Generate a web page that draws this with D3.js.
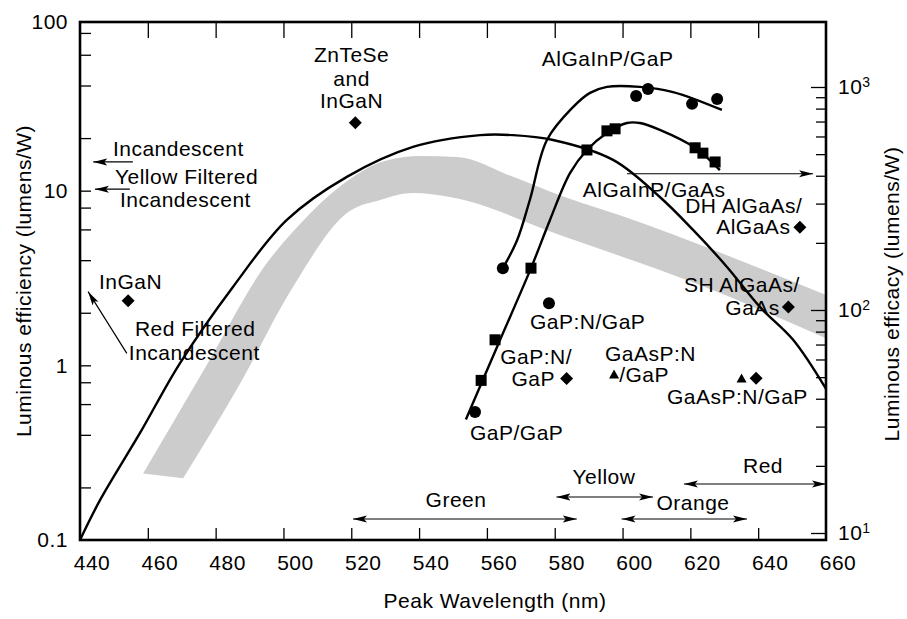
<!DOCTYPE html>
<html>
<head>
<meta charset="utf-8">
<script src="https://cdn.jsdelivr.net/npm/d3@7"></script>
<style>
    body { margin: 0; background: #fff; }
    text {
        font-family: "Liberation Sans", Arial, Helvetica, sans-serif;
        font-size: 21px;
        letter-spacing: 0.5px;
        fill: #000;
    }
</style>
</head>
<body>
<svg id="chart" width="907" height="619"></svg>
<script>
// ============================================================================
// DATA - values (wavelength nm, luminous efficiency lm/W)
// ============================================================================

const xTickValues = [440, 460, 480, 500, 520, 540, 560, 580, 600, 620, 640, 660];
const leftMajorTicks = [0.1, 1, 10, 100];
const leftMinorTicks = [0.2, 0.4, 0.6, 0.8, 2, 4, 6, 8, 20, 40, 60, 80];
const rightMajorTicks = [10, 100, 1000];
const rightMinorTicks = [20, 30, 40, 50, 60, 70, 80, 90, 200, 300, 400, 500, 600, 700, 800, 900];

// eye-response style envelope curve
const envelopeCurve = [
    [440, 0.1], [445.9, 0.169], [457.7, 0.41], [469.5, 1.03], [485.1, 2.81],
    [501, 6.8], [518.7, 12.0], [538.2, 17.8], [558, 20.8], [567.7, 20.8],
    [579.5, 19.5], [597.2, 15.0], [611, 9.2], [620.8, 5.96], [630.8, 3.66],
    [640.5, 2.16], [650.3, 1.40], [660, 0.733]
];

// gray band (filtered incandescent range)
const bandUpper = [
    [458.6, 0.24], [476.9, 0.97], [495.1, 3.85], [504.9, 6.45], [516.7, 10.6],
    [529.9, 14.8], [540.3, 15.8], [551.2, 15.6], [567.7, 12.0], [581.5, 9.4],
    [605.1, 6.6], [622.8, 4.9], [660, 2.53]
];
const bandLower = [
    [470.4, 0.226], [486.6, 0.75], [502.8, 2.81], [518.7, 7.45], [528.5, 8.85],
    [538.2, 9.7], [549.1, 9.2], [581.5, 5.57], [622.8, 2.88], [660, 1.43]
];

// AlGaInP/GaP (circles)
const algainpGapCurve = [
    [564.7, 3.6], [568.9, 5.2], [572.7, 8.9], [577.7, 19.5], [585.4, 30.1],
    [590.4, 36.3], [595.4, 39.3], [605.1, 39.3], [614.9, 36.7], [629.3, 29.0]
];
const algainpGapPoints = [[564.7, 3.6], [604.0, 34.8], [607.5, 38.2], [620.5, 31.4], [627.9, 33.5]];

// AlGaInP/GaAs (squares)
const algainpGaasCurve = [
    [553.8, 0.49], [563.4, 1.33], [573.0, 3.6], [578.6, 6.8], [584.5, 12.6],
    [589.5, 17.1], [595.4, 21.4], [601.3, 24.4], [605.1, 24.4], [611.0, 22.3],
    [621.4, 17.6], [628.7, 13.1]
];
const algainpGaasPoints = [
    [558.3, 0.82], [562.4, 1.40], [573.0, 3.6], [589.5, 17.1], [595.4, 22.0],
    [597.8, 22.6], [621.4, 17.6], [623.7, 16.4], [627.3, 14.6]
];

// single devices
const circlePoints = [[556.5, 0.54], [578.3, 2.27]];
const diamondPoints = [[454.2, 2.34], [521.2, 24.5], [583.5, 0.84], [639.4, 0.843], [648.9, 2.16], [652.3, 6.17]];
const trianglePoints = [[597.5, 0.88], [635.1, 0.836]];

// colour ranges along the wavelength axis
const colorBands = [
    { name: "Green", from: 520.5, to: 586.5 },
    { name: "Yellow", from: 580.5, to: 609.0 },
    { name: "Orange", from: 599.7, to: 636.7 },
    { name: "Red", from: 618.1, to: 660 }
];

// annotation arrows [from, to] in data units
const noteArrows = [
    [[455.6, 14.6], [443.9, 14.6]],
    [[454.7, 10.2], [444.4, 10.2]],
    [[453.8, 1.17], [442.4, 2.64]],
    [[601.3, 12.5], [656.2, 12.5]]
];

// text annotations: anchor point in data units
const notes = [
    { t: "ZnTeSe", x: 520.1, y: 59.8, a: "middle" },
    { t: "and", x: 520.1, y: 43.6, a: "middle" },
    { t: "InGaN", x: 520.1, y: 32.6, a: "middle" },
    { t: "AlGaInP/GaP", x: 576.2, y: 56.8, a: "start" },
    { t: "AlGaInP/GaAs", x: 588.3, y: 10.2, a: "start" },
    { t: "DH AlGaAs/", x: 653, y: 8.17, a: "end" },
    { t: "AlGaAs", x: 649.5, y: 6.2, a: "end" },
    { t: "SH AlGaAs/", x: 652.3, y: 2.88, a: "end" },
    { t: "GaAs", x: 646.4, y: 2.13, a: "end" },
    { t: "GaP:N/GaP", x: 572.7, y: 1.77, a: "start" },
    { t: "GaP:N/", x: 585.1, y: 1.12, a: "end" },
    { t: "GaP", x: 580.1, y: 0.836, a: "end" },
    { t: "GaAsP:N", x: 594.8, y: 1.16, a: "start" },
    { t: "/GaP", x: 599.0, y: 0.88, a: "start" },
    { t: "GaAsP:N/GaP", x: 613.1, y: 0.659, a: "start" },
    { t: "GaP/GaP", x: 555, y: 0.41, a: "start" },
    { t: "InGaN", x: 445.6, y: 3.0, a: "start" },
    { t: "Red Filtered", x: 456.2, y: 1.62, a: "start" },
    { t: "Incandescent", x: 454.4, y: 1.18, a: "start" },
    { t: "Incandescent", x: 449.7, y: 17.3, a: "start" },
    { t: "Yellow Filtered", x: 450.3, y: 12.0, a: "start" },
    { t: "Incandescent", x: 451.8, y: 8.85, a: "start" }
];

// ============================================================================
// LAYOUT
// ============================================================================

const frame = { left: 80, right: 826, top: 22, bottom: 540 };

const svg = d3.select("#chart");

const x = d3.scaleLinear().domain([440, 660]).range([frame.left, frame.right]);
const yLeft = d3.scaleLog().domain([0.1, 100]).range([540, 16]);
const yRight = d3.scaleLog().domain([10, 1000]).range([533, 87]);

const px = d => x(d[0]);
const py = d => yLeft(d[1]);

// arrow head marker
const defs = svg.append("defs");
defs.append("marker")
    .attr("id", "head")
    .attr("viewBox", "0 -5 14 10")
    .attr("refX", 14)
    .attr("refY", 0)
    .attr("markerWidth", 14)
    .attr("markerHeight", 10)
    .attr("markerUnits", "userSpaceOnUse")
    .attr("orient", "auto-start-reverse")
    .append("path")
    .attr("d", "M0,-3.5L14,0L0,3.5L3,0Z")
    .attr("fill", "#000");

defs.append("clipPath")
    .attr("id", "plotClip")
    .append("rect")
    .attr("x", frame.left)
    .attr("y", frame.top)
    .attr("width", frame.right - frame.left)
    .attr("height", frame.bottom - frame.top);

const plot = svg.append("g").attr("clip-path", "url(#plotClip)");

// ---- gray band ----
const bandLine = d3.line().x(px).y(py).curve(d3.curveMonotoneX);
const upperD = bandLine(bandUpper);
const lowerD = bandLine(bandLower.slice().reverse()).replace(/^M/, "L");
plot.append("path")
    .attr("d", upperD + lowerD + "Z")
    .attr("fill", "#cccccc")
    .attr("stroke", "none");

// ---- curves ----
const smooth = d3.line().x(px).y(py).curve(d3.curveCatmullRom.alpha(0.5));

[envelopeCurve, algainpGapCurve, algainpGaasCurve].forEach(series => {
    plot.append("path")
        .attr("d", smooth(series))
        .attr("fill", "none")
        .attr("stroke", "#000")
        .attr("stroke-width", 2.4);
});

// ---- markers ----
const marks = svg.append("g");

marks.selectAll(".dot")
    .data(algainpGapPoints.concat(circlePoints))
    .join("circle")
    .attr("class", "dot")
    .attr("cx", px)
    .attr("cy", py)
    .attr("r", 6);

marks.selectAll(".sq")
    .data(algainpGaasPoints)
    .join("rect")
    .attr("class", "sq")
    .attr("x", d => px(d) - 5.5)
    .attr("y", d => py(d) - 5.5)
    .attr("width", 11)
    .attr("height", 11);

marks.selectAll(".dia")
    .data(diamondPoints)
    .join("path")
    .attr("class", "dia")
    .attr("transform", d => `translate(${px(d)},${py(d)})`)
    .attr("d", "M0,-6.5L6.5,0L0,6.5L-6.5,0Z");

marks.selectAll(".tri")
    .data(trianglePoints)
    .join("path")
    .attr("class", "tri")
    .attr("transform", d => `translate(${px(d)},${py(d)})`)
    .attr("d", "M0,-5.5L5,3.5L-5,3.5Z");

// ---- annotation arrows ----
svg.append("g")
    .selectAll("line")
    .data(noteArrows)
    .join("line")
    .attr("x1", d => px(d[0]))
    .attr("y1", d => py(d[0]))
    .attr("x2", d => px(d[1]))
    .attr("y2", d => py(d[1]))
    .attr("stroke", "#000")
    .attr("stroke-width", 1.2)
    .attr("marker-end", "url(#head)");

// ---- colour range arrows (double headed) ----
const bandRow = { Green: 519, Yellow: 497, Orange: 519, Red: 484 };
const bandLabelRow = { Green: 500, Yellow: 477, Orange: 503, Red: 466 };
const bandLabelX = { Green: 456, Yellow: 604, Orange: 693, Red: 763 };

const colorG = svg.append("g");
colorG.selectAll("line")
    .data(colorBands)
    .join("line")
    .attr("x1", d => x(d.from))
    .attr("x2", d => x(d.to))
    .attr("y1", d => bandRow[d.name])
    .attr("y2", d => bandRow[d.name])
    .attr("stroke", "#000")
    .attr("stroke-width", 1.2)
    .attr("marker-start", "url(#head)")
    .attr("marker-end", "url(#head)");

colorG.selectAll("text")
    .data(colorBands)
    .join("text")
    .attr("x", d => bandLabelX[d.name])
    .attr("y", d => bandLabelRow[d.name])
    .attr("dy", "0.35em")
    .attr("text-anchor", "middle")
    .text(d => d.name);

// ---- text annotations ----
svg.append("g")
    .selectAll("text")
    .data(notes)
    .join("text")
    .attr("x", d => x(d.x))
    .attr("y", d => yLeft(d.y))
    .attr("dy", "0.35em")
    .attr("text-anchor", d => d.a)
    .text(d => d.t);

// ============================================================================
// AXES
// ============================================================================

function styleAxis(g) {
    g.select(".domain").remove();
    g.selectAll(".tick line").attr("stroke", "#000").attr("stroke-width", 1.3);
}

const innerX = xTickValues.filter(v => v > 440 && v < 660);

// bottom ticks + labels (labels sit a little right of their ticks in the original)
svg.append("g")
    .attr("transform", `translate(0,${frame.bottom})`)
    .call(d3.axisBottom(x).tickValues(innerX).tickSize(-12).tickSizeOuter(0).tickFormat(""))
    .call(styleAxis);

svg.append("g")
    .selectAll("text")
    .data(xTickValues)
    .join("text")
    .attr("x", d => x(d) + 12)
    .attr("y", 563)
    .attr("dy", "0.35em")
    .attr("text-anchor", "middle")
    .text(d => d);

// top ticks
svg.append("g")
    .attr("transform", `translate(0,${frame.top})`)
    .call(d3.axisTop(x).tickValues(innerX).tickSize(-16).tickSizeOuter(0).tickFormat(""))
    .call(styleAxis);

// left ticks
svg.append("g")
    .attr("transform", `translate(${frame.left},0)`)
    .call(d3.axisLeft(yLeft).tickValues(leftMinorTicks.concat([1, 10])).tickSize(-11).tickSizeOuter(0).tickFormat(""))
    .call(styleAxis);

svg.append("g")
    .selectAll("text")
    .data(leftMajorTicks)
    .join("text")
    .attr("x", 68)
    .attr("y", d => d === 100 ? frame.top : yLeft(d))
    .attr("dy", "0.35em")
    .attr("text-anchor", "end")
    .text(d => d);

// right ticks
svg.append("g")
    .attr("transform", `translate(${frame.right},0)`)
    .call(d3.axisRight(yRight).tickValues(rightMajorTicks).tickSize(-15).tickSizeOuter(0).tickFormat(""))
    .call(styleAxis);

svg.append("g")
    .attr("transform", `translate(${frame.right},0)`)
    .call(d3.axisRight(yRight).tickValues(rightMinorTicks).tickSize(-10).tickSizeOuter(0).tickFormat(""))
    .call(styleAxis);

const rLabels = svg.append("g")
    .selectAll("text")
    .data(rightMajorTicks)
    .join("text")
    .attr("x", 838)
    .attr("y", d => yRight(d))
    .attr("dy", "0.35em");
rLabels.append("tspan").text("10");
rLabels.append("tspan")
    .attr("dy", "-0.55em")
    .style("font-size", "14px")
    .text(d => Math.round(Math.log10(d)));

// frame
svg.append("rect")
    .attr("x", frame.left)
    .attr("y", frame.top)
    .attr("width", frame.right - frame.left)
    .attr("height", frame.bottom - frame.top)
    .attr("fill", "none")
    .attr("stroke", "#000")
    .attr("stroke-width", 2.6);

// axis titles
svg.append("text")
    .attr("x", 495)
    .attr("y", 601)
    .attr("dy", "0.35em")
    .attr("text-anchor", "middle")
    .text("Peak Wavelength (nm)");

svg.append("text")
    .attr("transform", "translate(24,281) rotate(-90)")
    .attr("dy", "0.35em")
    .attr("text-anchor", "middle")
    .text("Luminous efficiency (lumens/W)");

svg.append("text")
    .attr("transform", "translate(892,294) rotate(-90)")
    .attr("dy", "0.35em")
    .attr("text-anchor", "middle")
    .text("Luminous efficacy (lumens/W)");
</script>
</body>
</html>
